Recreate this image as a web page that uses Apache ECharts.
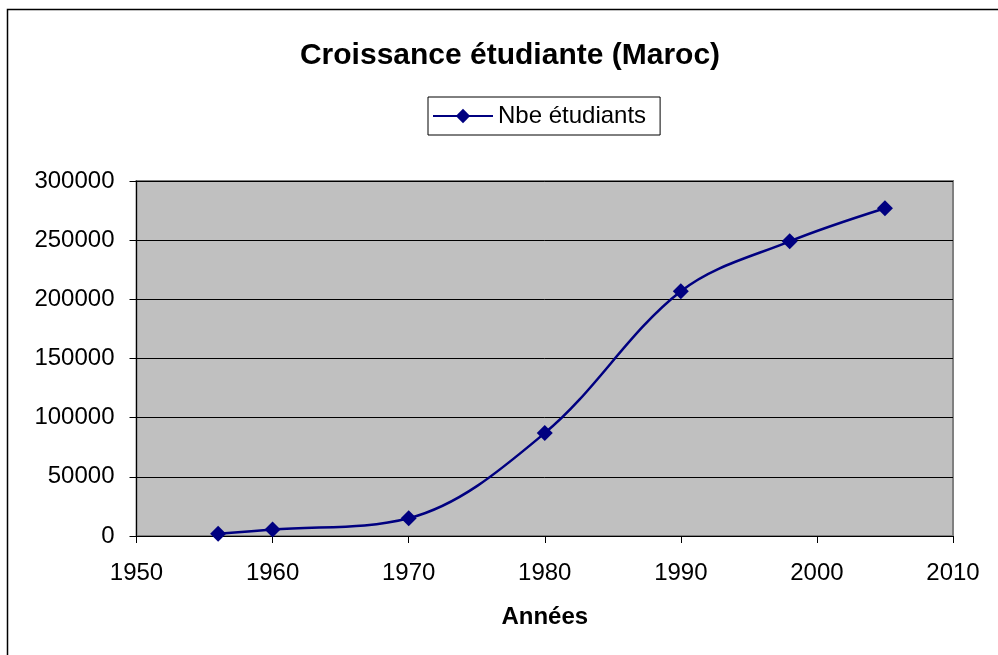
<!DOCTYPE html>
<html>
<head>
<meta charset="utf-8">
<script src="https://cdn.jsdelivr.net/npm/echarts@6/dist/echarts.min.js"></script>
<style>html,body{margin:0;padding:0;background:#fff}#c{width:998px;height:655px}</style>
</head>
<body>
<div id="c"></div>
<script>
const titleText = 'Croissance étudiante (Maroc)';
const seriesName = 'Nbe étudiants';
const xName = 'Années';
const years = [1956, 1960, 1970, 1980, 1990, 1998, 2005];
const students = [2000, 5400, 15000, 87000, 206800, 249000, 277000];

const chart = echarts.init(document.getElementById('c'));
const font = 'Arial, "Liberation Sans", sans-serif';
chart.setOption({
  animation: false,
  backgroundColor: '#fff',
  graphic: [{
    type: 'rect', shape: {x: 7.5, y: 9.5, width: 1100, height: 800},
    style: {fill: 'none', stroke: '#000', lineWidth: 1.5}, silent: true, z: 100
  }],
  title: {
    text: titleText, left: 505, textAlign: 'center', top: 36,
    textStyle: {fontFamily: font, fontSize: 30, fontWeight: 'bold', color: '#000'}
  },
  legend: {
    left: 428, top: 97,
    padding: [7, 14, 7, 4],
    borderColor: '#000', borderWidth: 1,
    itemWidth: 60, itemHeight: 18, itemGap: 5,
    textStyle: {fontFamily: font, fontSize: 24, color: '#000'},
    data: [seriesName]
  },
  grid: {left: 136.5, right: 45, top: 181, bottom: 119, show: true,
    backgroundColor: '#C0C0C0', borderColor: '#808080', borderWidth: 2},
  xAxis: {
    type: 'value', min: 1950, max: 2010, interval: 10,
    name: xName, nameLocation: 'middle', nameGap: 69,
    nameTextStyle: {fontFamily: font, fontSize: 24, fontWeight: 'bold', color: '#000'},
    axisLine: {lineStyle: {color: '#000', width: 1}},
    axisTick: {show: true, length: 7, lineStyle: {color: '#000'}},
    axisLabel: {fontFamily: font, fontSize: 24, color: '#000', margin: 25, formatter: v => String(v)},
    splitLine: {show: false}
  },
  yAxis: {
    type: 'value', min: 0, max: 300000, interval: 50000,
    axisLine: {show: true, lineStyle: {color: '#000', width: 1}},
    axisTick: {show: true, length: 7, lineStyle: {color: '#000'}},
    axisLabel: {fontFamily: font, fontSize: 24, color: '#000', margin: 22, formatter: v => String(v)},
    splitLine: {show: true, lineStyle: {color: '#000', width: 1}}
  },
  series: [{
    name: seriesName, type: 'line', smooth: 0.35,
    data: years.map((y, i) => [y, students[i]]),
    symbol: 'diamond', symbolSize: 16,
    lineStyle: {color: '#000080', width: 2.5},
    itemStyle: {color: '#000080'}
  }]
});
</script>
</body>
</html>
